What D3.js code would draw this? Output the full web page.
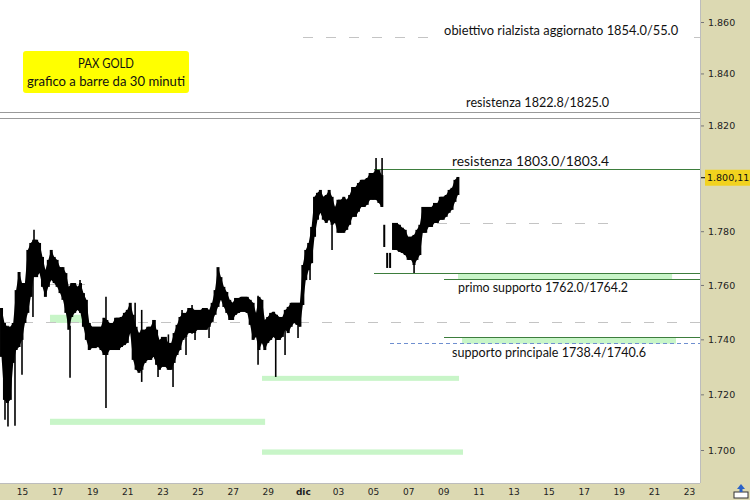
<!DOCTYPE html>
<html><head><meta charset="utf-8">
<script src="https://cdn.jsdelivr.net/npm/d3@7"></script>
<style>body{margin:0;background:#fff}svg{display:block}</style>
</head><body><svg id="c" width="750" height="500"></svg>
<script>
// ---------- DATA ----------
const barStart = "2022-11-13T20:00:00";   // first 4-hour bar
const barHours = 4;
const barHigh = [
1751.5,1746.0,1744.6,1744.6,1746.0,1758.1,1764.8,1760.7,1760.7,1773.0,
1775.6,1776.8,1776.8,1775.6,1770.4,1765.5,1769.3,1773.0,1770.4,1769.3,
1766.6,1766.6,1764.4,1759.3,1760.7,1760.7,1759.3,1760.7,1757.0,1754.5,
1746.0,1744.6,1744.6,1744.6,1744.6,1747.9,1747.1,1746.0,1746.0,1747.9,
1747.9,1748.2,1749.7,1750.8,1753.4,1749.0,1744.6,1742.3,1743.5,1743.5,
1744.6,1744.6,1747.1,1743.5,1739.8,1740.9,1740.9,1738.7,1738.7,1742.3,
1745.3,1748.2,1749.7,1749.7,1751.5,1751.5,1750.8,1750.8,1750.8,1751.5,
1751.5,1750.8,1753.4,1758.1,1766.6,1762.9,1759.3,1757.4,1754.5,1753.4,
1755.2,1755.2,1755.6,1755.6,1755.6,1754.5,1753.4,1749.7,1755.6,1754.5,
1747.1,1748.2,1749.7,1750.1,1749.0,1748.2,1748.2,1750.8,1751.9,1753.4,
1753.4,1753.4,1753.4,1767.4,1773.0,1775.6,1781.6,1792.9,1794.4,1795.5,
1792.9,1793.6,1795.5,1792.9,1789.1,1791.8,1791.8,1792.9,1791.8,1793.6,
1796.6,1796.6,1798.1,1799.3,1799.3,1800.0,1801.9,1801.9,1803.0,1803.0,
1801.1,1782.4,1771.9,1771.9,1783.1,1783.1,1782.4,1781.3,1780.5,1777.9,
1777.9,1778.6,1780.5,1782.4,1789.1,1789.1,1789.1,1789.1,1790.6,1790.6,
1792.9,1792.9,1793.6,1795.5,1796.3,1799.3,1800.4
];
const barLow = [
1733.6,1718.0,1716.9,1718.0,1731.4,1736.1,1737.2,1739.8,1746.0,1749.7,
1755.6,1762.9,1762.9,1764.4,1759.3,1755.6,1759.3,1761.8,1760.7,1759.3,
1757.0,1754.5,1749.7,1743.5,1748.2,1749.7,1750.8,1749.7,1744.6,1739.8,
1736.1,1736.8,1736.8,1737.2,1736.1,1734.3,1734.3,1736.1,1736.1,1736.1,
1736.1,1737.2,1737.9,1738.7,1742.3,1732.5,1728.9,1727.8,1728.9,1731.4,
1732.5,1732.5,1733.6,1730.7,1728.9,1730.0,1730.0,1728.9,1728.9,1731.4,
1734.3,1736.1,1739.8,1740.9,1742.3,1742.3,1742.3,1743.5,1743.5,1743.5,
1743.5,1744.6,1746.4,1749.0,1751.9,1754.5,1751.9,1749.7,1747.1,1747.1,
1749.0,1749.7,1750.1,1750.1,1749.7,1745.3,1739.8,1740.9,1736.1,1738.7,
1736.1,1738.7,1739.8,1740.9,1739.8,1739.8,1740.9,1743.5,1742.3,1744.6,
1746.0,1745.3,1744.6,1752.6,1761.8,1765.5,1768.1,1777.9,1784.3,1786.9,
1784.3,1783.1,1784.3,1782.4,1783.1,1779.4,1779.4,1779.4,1780.5,1782.4,
1785.4,1785.4,1787.3,1789.1,1789.1,1789.9,1791.8,1791.8,1791.8,1790.6,
1789.1,1774.1,1766.3,1766.3,1773.0,1773.0,1772.3,1771.9,1771.1,1769.3,
1769.3,1767.4,1769.3,1771.1,1779.4,1779.4,1781.6,1781.6,1783.1,1783.1,
1784.3,1784.3,1785.4,1786.9,1788.0,1791.0,1793.6
];
// bars of the 5 Dec sell-off that stand apart (price gaps on either side)
const isolatedBars = [131,132,133];
// isolated 30-minute extremes: [time, high, low]
const wicks = [
["2022-11-14T00:45",1739.8,1710.8],["2022-11-14T04:50",1745.0,1708.4],
["2022-11-14T14:25",1744.0,1708.7],["2022-11-15T00:00",1750.0,1727.1],
["2022-11-15T15:00",1776.0,1748.2],["2022-11-15T16:25",1780.5,1770.0],
["2022-11-17T17:40",1745.0,1726.0],["2022-11-18T07:20",1761.8,1750.0],
["2022-11-19T18:50",1755.6,1715.1],["2022-11-21T10:40",1753.4,1740.0],
["2022-11-21T19:40",1750.8,1724.5],["2022-11-22T13:50",1747.1,1733.0],
["2022-11-22T18:00",1740.0,1726.3],["2022-11-23T08:10",1741.8,1730.0],
["2022-11-23T14:30",1738.0,1722.7],["2022-11-24T02:50",1750.8,1740.0],
["2022-11-24T08:15",1748.0,1734.3],["2022-11-24T16:30",1752.6,1742.0],
["2022-11-24T20:35",1750.0,1739.8],["2022-11-25T15:45",1750.0,1740.5],
["2022-11-28T10:45",1756.0,1730.7],["2022-11-29T10:55",1749.0,1726.3],
["2022-11-29T23:40",1750.0,1734.3],["2022-11-30T17:25",1752.0,1740.5],
["2022-12-01T09:50",1775.0,1761.8],["2022-12-02T15:55",1790.0,1773.0],
["2022-12-05T04:05",1807.6,1795.0],["2022-12-05T12:20",1807.6,1789.1],
["2022-12-07T08:05",1775.0,1764.4]
];
const lastPrice = 1800.11;

const yTicks = [1700,1720,1740,1760,1780,1800,1820,1840,1860];
const xTickDates = ["2022-11-15","2022-11-17","2022-11-19","2022-11-21","2022-11-23","2022-11-25","2022-11-27","2022-11-29","2022-12-01","2022-12-03","2022-12-05","2022-12-07","2022-12-09","2022-12-11","2022-12-13","2022-12-15","2022-12-17","2022-12-19","2022-12-21","2022-12-23"];
const xTickLabels = ["15","17","19","21","23","25","27","29","dic","03","05","07","09","11","13","15","17","19","21","23"];

// levels
const targetLevel = 1854.0;      const targetFrom = "2022-12-01T00:15";
const resistance2 = [1822.8, 1825.0];
const resistance1 = [1803.0, 1803.4]; const resistance1From = "2022-12-05T01:20";
const support1 = [1762.0, 1764.2];    const support1From = ["2022-12-09T01:10","2022-12-05T01:20"];
const support2 = [1738.4, 1740.6];    const support2From = ["2022-12-05T23:15","2022-12-09T01:10"];
const midLevel = 1782.8;  const midSpan = ["2022-12-08T15:30","2022-12-18T09:20"];
const refLevel = 1746.0;
const shortLevel = 1760.0; const shortSpan = ["2022-11-16T04:40","2022-11-18T21:00"];
// light-green zones: [top, bottom, from, to]
const zones = [
[1749.0,1746.0,"2022-11-16T14:15","2022-11-18T14:10"],
[1711.2,1709.0,"2022-11-16T14:15","2022-11-28T20:25"],
[1726.7,1724.9,"2022-11-28T16:10","2022-12-09T21:35"],
[1700.2,1698.3,"2022-11-28T16:10","2022-12-10T03:00"],
[1764.2,1762.0,"2022-12-09T20:10","2022-12-22T00:55"],
[1740.6,1738.4,"2022-12-10T01:40","2022-12-22T06:15"]
];
// annotations: [text, anchor time, anchor price]
const notes = [
["obiettivo rialzista aggiornato 1854.0/55.0","2022-12-09T01:10",1854.0],
["resistenza 1822.8/1825.0","2022-12-10T07:10",1825.0],
["resistenza 1803.0/1803.4","2022-12-09T12:00",1803.4],
["primo supporto 1762.0/1764.2","2022-12-09T20:10",1762.0],
["supporto principale 1738.4/1740.6","2022-12-09T12:00",1738.4]
];
const noteWidths = [234,143,157,170,194];
const titleLines = ["PAX GOLD","grafico a barre da 30 minuti"];

// ---------- DRAW ----------
const W = 750, H = 500, plotR = 700, plotB = 483;
const svg = d3.select("#c");
const T = s => new Date(s);
const x = d3.scaleTime().domain([T("2022-11-15T00:00"), T("2022-12-23T00:00")]).range([22, 689]);
const y = d3.scaleLog().domain([1700, 1860]).range([450, 22]);

svg.append("rect").attr("x",0).attr("y",0).attr("width",W).attr("height",H).attr("fill","#fff");
svg.append("defs").append("clipPath").attr("id","pc").append("rect")
  .attr("x",0).attr("y",0).attr("width",plotR).attr("height",plotB);
const g = svg.append("g").attr("clip-path","url(#pc)");

const grey = "#c4c4c4", dash = "10,13", green = "#3d7d3d", lgreen = "#c8f5c8";
const hline = (p, x0, x1, col, da, sw) => g.append("line")
  .attr("x1",x0).attr("x2",x1).attr("y1",y(p)).attr("y2",y(p))
  .attr("stroke",col).attr("stroke-width",sw||1).attr("stroke-dasharray",da||null)
  .attr("shape-rendering","crispEdges");

// zones
g.selectAll("rect.zone").data(zones).join("rect").attr("class","zone")
  .attr("x",d=>x(T(d[2]))).attr("width",d=>x(T(d[3]))-x(T(d[2])))
  .attr("y",d=>y(d[0])).attr("height",d=>Math.max(5,y(d[1])-y(d[0])))
  .attr("fill",lgreen);

// reference lines
hline(refLevel, 0, plotR, grey, dash);
hline(shortLevel, x(T(shortSpan[0])), x(T(shortSpan[1])), grey, "18,6");
hline(midLevel, x(T(midSpan[0])), x(T(midSpan[1])), grey, dash);
hline(targetLevel, x(T(targetFrom)), plotR, grey, dash);
resistance2.forEach(p => hline(p, 0, plotR, "#9a9a9a"));
hline(resistance1[1], x(T(resistance1From)), plotR, green);
hline(support1[0], x(T(support1From[0])), plotR, green);
hline(support1[1], x(T(support1From[1])), plotR, green);
hline(support2[0], x(T(support2From[0])), plotR, "#6f8fd0", "4,3");
hline(support2[1], x(T(support2From[1])), plotR, green);

// price bars
const t0 = T(barStart);
const bars = barHigh.map((h,i)=>({i, t:d3.timeHour.offset(t0, i*barHours), h, l:barLow[i]}));
g.append("path").datum(bars)
  .attr("d", d3.area().defined(d=>!isolatedBars.includes(d.i)).x(d=>x(d.t)).y0(d=>y(d.l)).y1(d=>y(d.h)))
  .attr("fill","#000");
g.selectAll("rect.bar").data(bars).join("rect").attr("class","bar")
  .attr("x",d=>x(d.t)-1.5).attr("width",d=>isolatedBars.includes(d.i)?2:3)
  .attr("y",d=>y(d.h)).attr("height",d=>Math.max(1,y(d.l)-y(d.h)))
  .attr("fill","#000");
g.selectAll("line.wick").data(wicks).join("line").attr("class","wick")
  .attr("x1",d=>x(T(d[0]))).attr("x2",d=>x(T(d[0])))
  .attr("y1",d=>y(d[1])).attr("y2",d=>y(d[2]))
  .attr("stroke","#000").attr("stroke-width",1.6);

// annotations
const fontA = "Lato, 'Open Sans', sans-serif";
const offs = [-2,-5,-3,12.5,13];
notes.forEach((n,i)=>{
  const tx = x(T(n[1])), ty = y(n[2]) + offs[i];
  if (i===0) g.append("rect").attr("x",tx-4).attr("y",ty-12).attr("width",noteWidths[i]+8).attr("height",16).attr("fill","#fff");
  g.append("text").attr("x",tx).attr("y",ty).text(n[0])
    .attr("font-family",fontA).attr("font-size",13).attr("fill","#111")
    .attr("textLength",noteWidths[i]).attr("lengthAdjust","spacingAndGlyphs");
});

// title box
svg.append("rect").attr("x",23).attr("y",51).attr("width",166).attr("height",42).attr("rx",3).attr("fill","#ffff00");
svg.append("text").attr("x",106).attr("y",68).attr("text-anchor","middle").text(titleLines[0])
  .attr("font-family",fontA).attr("font-size",13).attr("fill","#111")
  .attr("textLength",56).attr("lengthAdjust","spacingAndGlyphs");
svg.append("text").attr("x",106).attr("y",86).attr("text-anchor","middle").text(titleLines[1])
  .attr("font-family",fontA).attr("font-size",13).attr("fill","#111")
  .attr("textLength",158).attr("lengthAdjust","spacingAndGlyphs");

// axis panels
const panel = "#dcd9b2";
svg.append("rect").attr("x",plotR).attr("y",0).attr("width",W-plotR).attr("height",H).attr("fill",panel);
svg.append("rect").attr("x",0).attr("y",plotB).attr("width",W).attr("height",H-plotB).attr("fill",panel);
svg.append("line").attr("x1",plotR+0.5).attr("x2",plotR+0.5).attr("y1",0).attr("y2",plotB).attr("stroke","#bdbdbd");
svg.append("line").attr("x1",0).attr("x2",plotR).attr("y1",plotB+0.5).attr("y2",plotB+0.5).attr("stroke","#bdbdbd");

// y axis (the tick hidden under the last-price tag is not labelled)
const yp = y(lastPrice);
const fmtY = d => d3.format(".3f")(d/1000);
const yAxis = d3.axisRight(y).tickValues(yTicks.filter(v=>Math.abs(y(v)-yp)>10)).tickSize(3).tickPadding(4).tickFormat(fmtY);
const ya = svg.append("g").attr("transform",`translate(${plotR+1},0)`).call(yAxis);
ya.select(".domain").remove();
ya.selectAll("line").attr("stroke","#777");
ya.selectAll("text").attr("font-family","'DejaVu Sans', sans-serif").attr("font-size",9.5).attr("fill","#222");
// current price tag
svg.append("line").attr("x1",plotR+1).attr("x2",plotR+5).attr("y1",yp).attr("y2",yp).attr("stroke","#000");
svg.append("rect").attr("x",plotR+5).attr("y",yp-8).attr("width",W-plotR-5).attr("height",16).attr("fill","#f2d21e");
svg.append("text").attr("x",plotR+7).attr("y",yp+3.5).text(d3.formatLocale({decimal:",",thousands:".",grouping:[3],currency:["","€"]}).format(",.2f")(lastPrice))
  .attr("font-family","'DejaVu Sans', sans-serif").attr("font-size",9.5).attr("fill","#111");

// x axis
const xa = svg.append("g").attr("transform",`translate(0,${plotB})`)
  .call(d3.axisBottom(x).tickValues(xTickDates.map(T)).tickSize(0).tickPadding(6)
    .tickFormat((d,i)=>xTickLabels[i]));
xa.select(".domain").remove();
xa.selectAll("text").attr("font-family","'DejaVu Sans', sans-serif").attr("font-size",9).attr("fill","#222")
  .attr("font-weight",(d,i)=>xTickLabels[i]==="dic"?"bold":"normal");

// small corner icon
const ic = svg.append("g").attr("transform","translate(734,484)");
ic.append("rect").attr("x",0).attr("y",8).attr("width",14).attr("height",6).attr("fill","#fff").attr("stroke","#333").attr("stroke-width",1);
ic.append("path").attr("d","M7,0 L11,5 L8.5,5 L8.5,8 L5.5,8 L5.5,5 L3,5 Z").attr("fill","#2a62c8");
</script></body></html>
